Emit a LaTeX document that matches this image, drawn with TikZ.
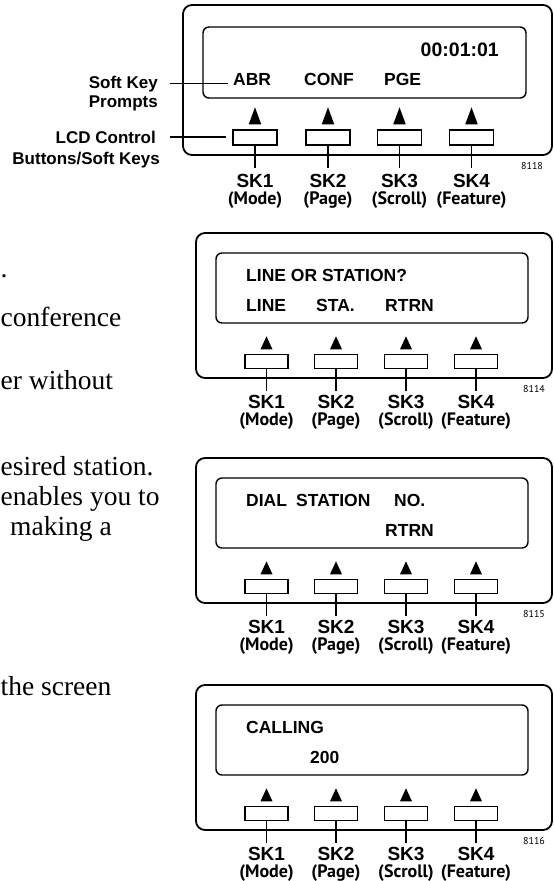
\documentclass[tikz,border=0pt]{standalone}
\usepackage{fontspec}
\setmainfont{Liberation Serif}
\newfontfamily\lcdfont{Liberation Sans}
\newfontfamily\keyfont{PT Sans}

\tikzset{
  frame/.style={draw, line width=1.8pt, rounded corners=9pt},
  screen/.style={draw, line width=1.4pt, rounded corners=6pt},
  softkey/.style={draw, line width=1.4pt, minimum width=43pt, minimum height=14pt, inner sep=0pt},
  stem/.style={line width=1.8pt},
  leader/.style={line width=1.4pt},
  lcdtext/.style={font={\lcdfont\bfseries\fontsize{17.5}{20}\selectfont}, inner sep=0pt, anchor=base west},
  clock/.style={font={\lcdfont\bfseries\fontsize{19.5}{22}\selectfont}, inner sep=0pt, anchor=base east},
  callout/.style={font={\lcdfont\bfseries\fontsize{17}{20}\selectfont}, inner sep=0pt, anchor=base east},
  sklabel/.style={font={\lcdfont\bfseries\fontsize{19}{22}\selectfont}, inner sep=0pt, anchor=base},
  modelabel/.style={font={\keyfont\bfseries\fontsize{18}{20}\selectfont}, inner sep=0pt, anchor=base},
  figno/.style={font={\keyfont\fontsize{10}{12}\selectfont}, inner sep=0pt, anchor=base},
  pagetext/.style={font={\fontsize{27.5}{30}\selectfont}, inner sep=0pt, anchor=base west}
}

\begin{document}
\begin{tikzpicture}[x=1pt, y=-1pt]
  \useasboundingbox (0,0) rectangle (554,881);

  % text of the page, cut at the left edge
  \node[pagetext] (dot) at (0.5,277) {.};
  \node[pagetext] (conf) at (0.5,326) {conference};
  \node[pagetext] (without) at (0.5,389) {er without};
  \node[pagetext] (desired) at (0.5,475) {esired station.};
  \node[pagetext] (enables) at (0.5,505) {enables you to};
  \node[pagetext] (making) at (10,535) {making a};
  \node[pagetext] (screen) at (0.5,695) {the screen};

  % top phone, with callouts
  \draw[frame] (183,5) rectangle (552,155);
  \draw[screen] (203,27) rectangle (526,98);
  \node[clock] (p1time) at (499,56) {00:01:01};
  \node[lcdtext] (p1abr) at (233,85) {ABR};
  \node[lcdtext] (p1conf) at (304,85) {CONF};
  \node[lcdtext] (p1pge) at (384,85) {PGE};
  \foreach \i/\x/\m in {1/255/Mode, 2/328/Page, 3/399.5/Scroll, 4/471.5/Feature} {
    \node[softkey, minimum width=44pt, minimum height=15pt] (p1k\i) at (\x,137.5) {};
    \fill ([shift={(-6.25,-5)}]p1k\i.north) -- ++(12.5,0) -- ([shift={(0,-22)}]p1k\i.north) -- cycle;
    \draw[stem] (p1k\i.south) -- ++(0,22);
    \node[sklabel] (p1sk\i) at (\x,187) {SK\i};
    \node[modelabel] (p1mode\i) at (\x,204) {(\m)};
  }
  \node[figno] (p1no) at (532,169.5) {8118};
  \node[callout] (p1soft) at (158,88) {Soft Key};
  \node[callout] (p1prompts) at (158,107) {Prompts};
  \node[callout] (p1lcdlbl) at (156,143) {LCD Control};
  \node[callout] (p1buttons) at (160,164) {Buttons/Soft Keys};
  \draw[leader] ([xshift=12pt]p1soft.east) -- ([xshift=-5pt]p1abr.west |- p1soft.east);
  \draw[leader] ([xshift=14pt]p1lcdlbl.east) -- ([xshift=-6pt]p1k1.west |- p1lcdlbl.east);

  % the three phones below
  \foreach \T/\p/\num in {233/2/8114, 458/3/8115, 685/4/8116} {
    \draw[frame] (196,\T) rectangle (552,\T+145);
    \draw[screen] (216,\T+20) rectangle (528,\T+90);
    \foreach \i/\x/\m in {1/266.5/Mode, 2/336/Page, 3/406/Scroll, 4/476/Feature} {
      \node[softkey] (p\p k\i) at (\x,\T+128.5) {};
      \fill ([shift={(-6,-4.5)}]p\p k\i.north) -- ++(12,0) -- ([shift={(0,-17.5)}]p\p k\i.north) -- cycle;
      \draw[stem] (p\p k\i.south) -- ++(0,22);
      \node[sklabel] (p\p sk\i) at (\x,\T+175) {SK\i};
      \node[modelabel] (p\p mode\i) at (\x,\T+192) {(\m)};
    }
    \node[figno] (p\p no) at (534,\T+159.5) {\num};
  }
  \node[lcdtext] (p2ask) at (246,281.5) {LINE OR STATION?};
  \node[lcdtext] (p2line) at (246,311.5) {LINE};
  \node[lcdtext] (p2sta) at (316,311.5) {STA.};
  \node[lcdtext] (p2rtrn) at (385,311.5) {RTRN};
  \node[lcdtext] (p3dial) at (246,506.5) {DIAL};
  \node[lcdtext] (p3station) at (296,506.5) {STATION};
  \node[lcdtext] (p3no) at (394,506.5) {NO.};
  \node[lcdtext] (p3rtrn) at (385,536.5) {RTRN};
  \node[lcdtext] (p4calling) at (246,733.5) {CALLING};
  \node[lcdtext] (p4num) at (310,763.5) {200};
\end{tikzpicture}
\end{document}
